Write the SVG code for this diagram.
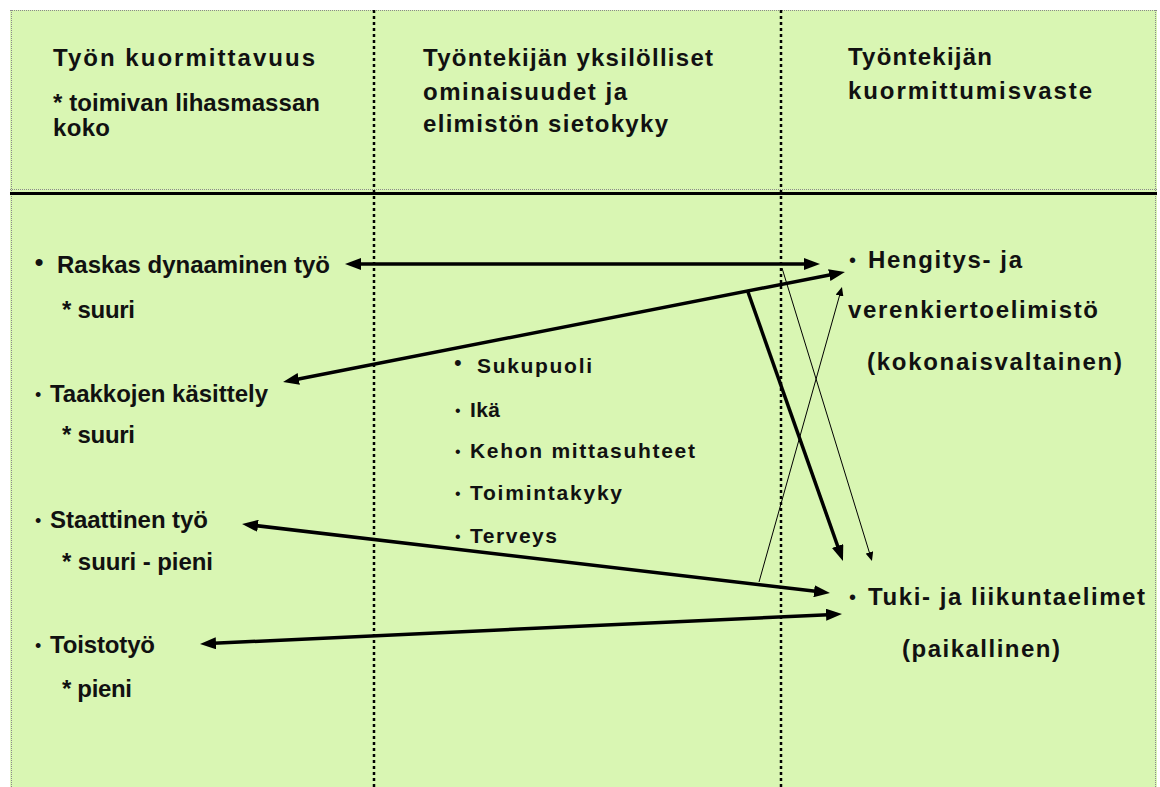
<svg xmlns="http://www.w3.org/2000/svg" width="1160" height="787" viewBox="0 0 1160 787">
<defs>
<style>
.t{font-family:"Liberation Sans",Arial,sans-serif;font-weight:bold;fill:#111;}
.h{font-size:24px;}
.m{font-size:21px;}
.b{font-family:"Liberation Sans",Arial,sans-serif;fill:#111;}
.vd{stroke:#000;stroke-width:2.5;stroke-dasharray:3 3;fill:none;}
.bd{stroke:#8a8a8a;stroke-width:1;stroke-dasharray:1 1;fill:none;}
.thick{stroke:#000;stroke-width:3.5;fill:none;}
.thin{stroke:#000;stroke-width:1;fill:none;}
</style>
<marker id="ah" markerUnits="userSpaceOnUse" markerWidth="16" markerHeight="12" refX="8" refY="6" orient="auto-start-reverse" viewBox="0 0 16 12"><path d="M0,0 L16,6 L0,12 z" fill="#000"/></marker>
<marker id="ahs" markerUnits="userSpaceOnUse" markerWidth="9" markerHeight="8" refX="4" refY="4" orient="auto" viewBox="0 0 9 8"><path d="M0,0 L9,4 L0,8 z" fill="#000"/></marker>
</defs>
<rect x="0" y="0" width="1160" height="787" fill="#fff"/>
<rect x="10" y="10" width="1147" height="777" fill="#d9f6b3"/>
<g id="frame">
<line class="bd" x1="10" y1="10.5" x2="1157" y2="10.5"/>
<line class="bd" x1="11.5" y1="10" x2="11.5" y2="787"/>
<line class="bd" x1="1155.5" y1="10" x2="1155.5" y2="787"/>
<line class="bd" x1="10" y1="189.5" x2="1157" y2="189.5"/>
<line x1="10" y1="193.5" x2="1157" y2="193.5" stroke="#000" stroke-width="3"/>
<line class="vd" x1="374" y1="10" x2="374" y2="787"/>
<line class="vd" x1="781" y1="10" x2="781" y2="787"/>
</g>
<g id="header-1">
<text class="t h" x="53" y="66" textLength="262" lengthAdjust="spacing">Työn kuormittavuus</text>
<text class="t h" x="53" y="111" textLength="267" lengthAdjust="spacing">* toimivan lihasmassan</text>
<text class="t h" x="53" y="136" textLength="57" lengthAdjust="spacing">koko</text>
</g>
<g id="header-2">
<text class="t h" x="423" y="66" textLength="290" lengthAdjust="spacing">Työntekijän yksilölliset</text>
<text class="t h" x="423" y="100" textLength="204" lengthAdjust="spacing">ominaisuudet ja</text>
<text class="t h" x="423" y="132" textLength="245" lengthAdjust="spacing">elimistön sietokyky</text>
</g>
<g id="header-3">
<text class="t h" x="848" y="65" textLength="144" lengthAdjust="spacing">Työntekijän</text>
<text class="t h" x="848" y="99" textLength="244" lengthAdjust="spacing">kuormittumisvaste</text>
</g>
<g id="node-raskas">
<text class="b" x="34.5" y="271" font-size="26">•</text>
<text class="t h" x="57" y="273" textLength="273" lengthAdjust="spacing">Raskas dynaaminen työ</text>
<text class="t h" x="62" y="318" textLength="73" lengthAdjust="spacing">* suuri</text>
</g>
<g id="node-taakkojen">
<text class="b" x="35" y="401" font-size="18">•</text>
<text class="t h" x="50" y="402" textLength="218" lengthAdjust="spacing">Taakkojen käsittely</text>
<text class="t h" x="62" y="443" textLength="73" lengthAdjust="spacing">* suuri</text>
</g>
<g id="node-staattinen">
<text class="b" x="35" y="527" font-size="18">•</text>
<text class="t h" x="50" y="528" textLength="158" lengthAdjust="spacing">Staattinen työ</text>
<text class="t h" x="62" y="570" textLength="151" lengthAdjust="spacing">* suuri - pieni</text>
</g>
<g id="node-toistotyo">
<text class="b" x="35" y="652" font-size="18">•</text>
<text class="t h" x="50" y="653" textLength="105" lengthAdjust="spacing">Toistotyö</text>
<text class="t h" x="62" y="697" textLength="70" lengthAdjust="spacing">* pieni</text>
</g>
<g id="node-ominaisuudet">
<text class="b" x="454" y="370" font-size="22">•</text>
<text class="t m" x="477" y="373" textLength="115" lengthAdjust="spacing">Sukupuoli</text>
<text class="b" x="455" y="416" font-size="16">•</text>
<text class="t m" x="470" y="417" textLength="30" lengthAdjust="spacing">Ikä</text>
<text class="b" x="455" y="457" font-size="16">•</text>
<text class="t m" x="470" y="458" textLength="225" lengthAdjust="spacing">Kehon mittasuhteet</text>
<text class="b" x="455" y="499" font-size="16">•</text>
<text class="t m" x="470" y="500" textLength="152" lengthAdjust="spacing">Toimintakyky</text>
<text class="b" x="455" y="542" font-size="16">•</text>
<text class="t m" x="470" y="543" textLength="87" lengthAdjust="spacing">Terveys</text>
</g>
<g id="node-hengitys">
<text class="b" x="849" y="267" font-size="20">•</text>
<text class="t h" x="868" y="268" textLength="154" lengthAdjust="spacing">Hengitys- ja</text>
<text class="t h" x="848" y="318" textLength="250" lengthAdjust="spacing">verenkiertoelimistö</text>
<text class="t h" x="867" y="370" textLength="255" lengthAdjust="spacing">(kokonaisvaltainen)</text>
</g>
<g id="node-tuki">
<text class="b" x="849" y="604" font-size="20">•</text>
<text class="t h" x="868" y="605" textLength="277" lengthAdjust="spacing">Tuki- ja liikuntaelimet</text>
<text class="t h" x="902" y="657" textLength="158" lengthAdjust="spacing">(paikallinen)</text>
</g>
<g id="connectors">
<line class="thick" x1="353" y1="264" x2="812" y2="264" marker-start="url(#ah)" marker-end="url(#ah)"/>
<line class="thick" x1="290.9" y1="380.5" x2="837.1" y2="273.5" stroke-width="4" marker-start="url(#ah)" marker-end="url(#ah)"/>
<line class="thick" x1="748" y1="292" x2="840.3" y2="553.5" stroke-width="4.5" marker-end="url(#ah)"/>
<line class="thin" x1="782" y1="268" x2="870.5" y2="556.2" marker-end="url(#ahs)"/>
<line class="thin" x1="759" y1="582" x2="840.6" y2="291.8" marker-end="url(#ahs)"/>
<line class="thick" x1="250" y1="524.9" x2="822" y2="592.1" marker-start="url(#ah)" marker-end="url(#ah)"/>
<line class="thick" x1="208" y1="643.6" x2="834" y2="614.4" marker-start="url(#ah)" marker-end="url(#ah)"/>
</g>
</svg>
